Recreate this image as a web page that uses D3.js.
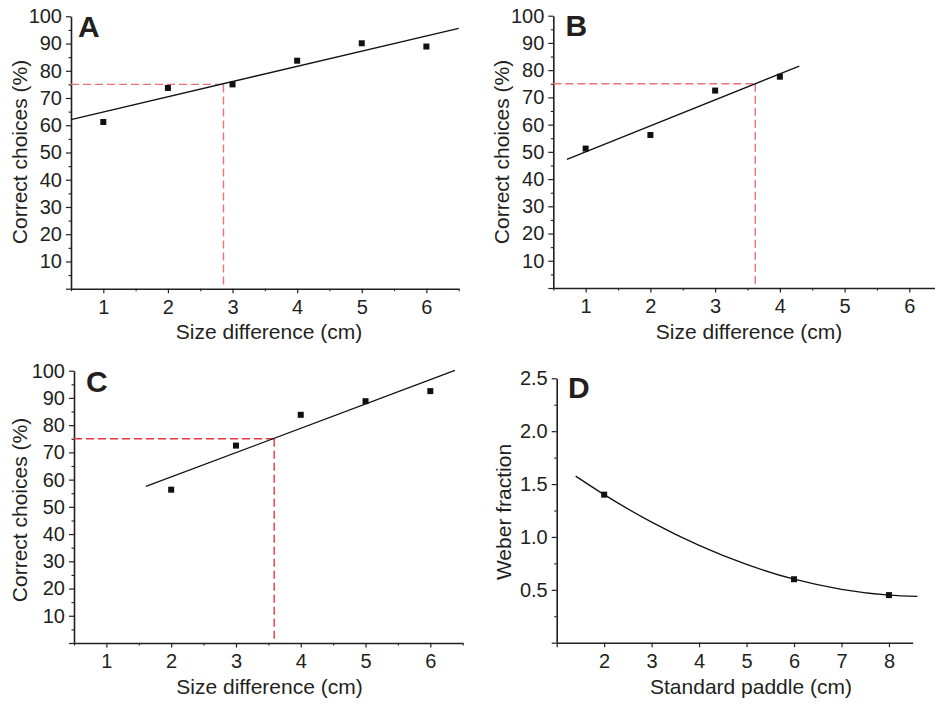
<!DOCTYPE html>
<html><head><meta charset="utf-8">
<script src="https://cdn.jsdelivr.net/npm/d3@7"></script>
<style>
body{margin:0;background:#fff;}
text{font-family:"Liberation Sans",Arial,Helvetica,sans-serif;fill:#231f20;}
</style></head>
<body><svg id="c" width="935" height="706"></svg>
<script>
// ---- data ----
const xA = [1, 2, 3, 4, 5, 6];
const yA = [61.2, 73.7, 75.0, 83.7, 90.1, 88.9];
const fitA = [[0.5, 62.1], [6.5, 95.6]];
const thrA = 2.86;

const xB = [1, 2, 3, 4];
const yB = [51.2, 56.2, 72.5, 77.6];
const fitB = [[0.71, 47.2], [4.30, 81.5]];
const thrB = 3.62;

const xC = [2, 3, 4, 5, 6];
const yC = [56.3, 72.5, 83.8, 88.8, 92.5];
const fitC = [[1.61, 57.5], [6.38, 100.1]];
const thrC = 3.59;

const criterion = 75;

const xD = [2, 6, 8];
const yD = [1.40, 0.60, 0.45];
const curveDx = [1.4, 2, 3, 4, 5, 6, 7, 8, 8.6];
const curveDy = [1.575, 1.40, 1.14, 0.92, 0.74, 0.60, 0.505, 0.45, 0.438];

const pctTicks = [0, 10, 20, 30, 40, 50, 60, 70, 80, 90, 100];
const pctMinor = [5, 15, 25, 35, 45, 55, 65, 75, 85, 95];
const sizeTicks = [1, 2, 3, 4, 5, 6];
const sizeMinor = [0.5, 1.5, 2.5, 3.5, 4.5, 5.5, 6.5];
const weberTicks = [0, 0.5, 1.0, 1.5, 2.0, 2.5];
const weberMinor = [0.25, 0.75, 1.25, 1.75, 2.25];
const paddleTicks = [1, 2, 3, 4, 5, 6, 7, 8];

const sizeTitle = "Size difference (cm)";
const pctTitle = "Correct choices (%)";

// ---- drawing ----
const svg = d3.select("#c");
const ink = "#231f20";

function panel(o) {
  const g = svg.append("g");
  const x = d3.scaleLinear().domain(o.xd).range(o.xr);
  const y = d3.scaleLinear().domain(o.yd).range(o.yr);

  // minor ticks
  g.append("g").attr("transform", `translate(0,${o.yr[0]})`)
    .call(d3.axisBottom(x).tickValues(o.xMinor || []).tickSize(2.5).tickFormat(""))
    .call(s => { s.select(".domain").remove(); s.selectAll("line").attr("stroke", ink).attr("stroke-width", 1.1); });
  g.append("g").attr("transform", `translate(${o.xr[0]},0)`)
    .call(d3.axisLeft(y).tickValues(o.yMinor).tickSize(2.5).tickFormat(""))
    .call(s => { s.select(".domain").remove(); s.selectAll("line").attr("stroke", ink).attr("stroke-width", 1.1); });

  // major
  const xa = g.append("g").attr("transform", `translate(0,${o.yr[0]})`)
    .call(d3.axisBottom(x).tickValues(o.xTicks).tickSize(4.5).tickPadding(6.5).tickSizeOuter(0)
      .tickFormat(d => o.xNoLabel.includes(d) ? "" : d3.format("d")(d)));
  xa.select(".domain").attr("stroke", ink).attr("stroke-width", 1.6);
  xa.selectAll("line").attr("stroke", ink).attr("stroke-width", 1.2);
  xa.selectAll("text").attr("font-size", 20).style("fill", ink);
  xa.attr("font-family", null);

  const ya = g.append("g").attr("transform", `translate(${o.xr[0]},0)`)
    .call(d3.axisLeft(y).tickValues(o.yTicks).tickSize(5).tickPadding(4).tickSizeOuter(0)
      .tickFormat(d => d === 0 ? "" : o.yFmt(d)));
  ya.select(".domain").attr("stroke", ink).attr("stroke-width", 1.6);
  ya.selectAll("line").attr("stroke", ink).attr("stroke-width", 1.2);
  ya.selectAll("text").attr("font-size", 20).style("fill", ink);
  ya.attr("font-family", null);

  // threshold dashed lines
  if (o.thr !== undefined) {
    const dash = g.append("g").attr("stroke", o.red).attr("stroke-width", 1.4)
      .attr("stroke-dasharray", "8,4").attr("fill", "none");
    dash.append("line").attr("x1", x(o.xd[0])).attr("x2", x(o.thr))
      .attr("y1", y(criterion)).attr("y2", y(criterion));
    dash.append("line").attr("x1", x(o.thr)).attr("x2", x(o.thr))
      .attr("y1", y(criterion)).attr("y2", y(0));
  }

  // fit line / curve
  const line = d3.line().x(d => x(d[0])).y(d => y(d[1])).curve(o.curve || d3.curveLinear);
  g.append("path").datum(o.fit).attr("d", line)
    .attr("fill", "none").attr("stroke", "#111").attr("stroke-width", 1.3);

  // points
  const s = 6;
  g.selectAll("rect.pt").data(o.xs.map((v, i) => [v, o.ys[i]])).enter().append("rect")
    .attr("x", d => x(d[0]) - s / 2).attr("y", d => y(d[1]) - s / 2)
    .attr("width", s).attr("height", s).attr("fill", "#111");

  // titles
  g.append("text").attr("x", o.xtPos[0]).attr("y", o.xtPos[1])
    .attr("text-anchor", "middle").attr("font-size", 21).text(o.xTitle);
  g.append("text").attr("transform", `translate(${o.ytPos[0]},${o.ytPos[1]}) rotate(-90)`)
    .attr("text-anchor", "middle").attr("font-size", 21).text(o.yTitle);
  g.append("text").attr("x", o.letPos[0]).attr("y", o.letPos[1])
    .attr("font-size", 30).attr("font-weight", "bold").text(o.letter);
}

const f0 = d3.format("d"), f1 = d3.format(".1f");
const pairs = (a, b) => a.map((v, i) => [v, b[i]]);

panel({ letter: "A", xd: [0.5, 6.5], yd: [0, 100], xr: [71, 458.7], yr: [288.7, 16.3],
  xTicks: sizeTicks, xMinor: sizeMinor, xNoLabel: [], yTicks: pctTicks, yMinor: pctMinor, yFmt: f0,
  xs: xA, ys: yA, fit: fitA, thr: thrA, red: "#ee7078",
  xTitle: sizeTitle, yTitle: pctTitle, xtPos: [269, 339], ytPos: [27, 152], letPos: [78, 36.7] });

panel({ letter: "B", xd: [0.5, 6.5], yd: [0, 100], xr: [553.3, 941.7], yr: [288, 15.7],
  xTicks: sizeTicks, xMinor: sizeMinor, xNoLabel: [], yTicks: pctTicks, yMinor: pctMinor, yFmt: f0,
  xs: xB, ys: yB, fit: fitB, thr: thrB, red: "#ee7078",
  xTitle: sizeTitle, yTitle: pctTitle, xtPos: [749, 339], ytPos: [509, 152], letPos: [565.5, 36] });

panel({ letter: "C", xd: [0.5, 6.5], yd: [0, 100], xr: [74, 462.7], yr: [643, 370.7],
  xTicks: sizeTicks, xMinor: sizeMinor, xNoLabel: [], yTicks: pctTicks, yMinor: pctMinor, yFmt: f0,
  xs: xC, ys: yC, fit: fitC, thr: thrC, red: "#e8323c",
  xTitle: sizeTitle, yTitle: pctTitle, xtPos: [269.5, 694], ytPos: [27, 510], letPos: [86, 392.3] });

panel({ letter: "D", xd: [1, 8.5], yd: [0, 2.5], xr: [556.7, 912.7], yr: [642.7, 378.3],
  xTicks: paddleTicks, xMinor: [], xNoLabel: [1], yTicks: weberTicks, yMinor: weberMinor, yFmt: f1,
  xs: xD, ys: yD, fit: pairs(curveDx, curveDy), curve: d3.curveMonotoneX,
  xTitle: "Standard paddle (cm)", yTitle: "Weber fraction", xtPos: [751, 694], ytPos: [511, 512], letPos: [568, 397.7] });
</script></body></html>
